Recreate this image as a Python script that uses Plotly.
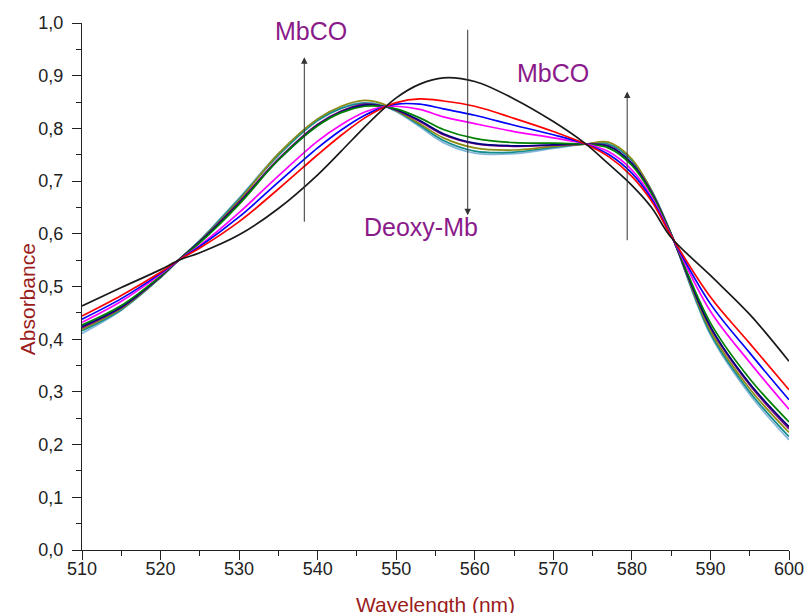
import plotly.graph_objects as go

# Wavelength grid (nm)
wavelength = [510, 515, 520, 522.5, 525, 530, 535, 540, 543, 546, 548, 550, 553,
              556, 560, 565, 570, 574, 577, 580, 582.5, 585, 590, 595, 600]

# Absorbance spectra recorded during the Deoxy-Mb -> MbCO conversion
deoxy_mb = [0.463, 0.498, 0.532, 0.551, 0.564, 0.598, 0.648, 0.712, 0.757, 0.803, 0.832, 0.858, 0.884,
            0.896, 0.889, 0.856, 0.813, 0.772, 0.733, 0.692, 0.650, 0.593, 0.521, 0.447, 0.358]
scan_red = [0.444, 0.483, 0.527, 0.552, 0.573, 0.623, 0.685, 0.750, 0.787, 0.820, 0.837, 0.849, 0.856,
            0.852, 0.842, 0.819, 0.794, 0.771, 0.747, 0.709, 0.662, 0.596, 0.480, 0.392, 0.304]
scan_blue = [0.438, 0.477, 0.525, 0.552, 0.576, 0.632, 0.698, 0.763, 0.797, 0.825, 0.838, 0.846, 0.846,
             0.837, 0.825, 0.806, 0.788, 0.771, 0.751, 0.715, 0.666, 0.596, 0.467, 0.374, 0.285]
scan_magenta = [0.432, 0.472, 0.523, 0.552, 0.578, 0.640, 0.710, 0.776, 0.807, 0.831, 0.840, 0.842, 0.836,
                0.822, 0.809, 0.794, 0.782, 0.771, 0.756, 0.721, 0.670, 0.597, 0.453, 0.356, 0.267]
scan_green = [0.427, 0.464, 0.520, 0.553, 0.583, 0.656, 0.740, 0.805, 0.830, 0.842, 0.842, 0.837, 0.820,
              0.798, 0.781, 0.773, 0.772, 0.770, 0.763, 0.730, 0.676, 0.599, 0.431, 0.325, 0.243]
scan_navy = [0.424, 0.461, 0.519, 0.553, 0.585, 0.658, 0.740, 0.806, 0.831, 0.844, 0.843, 0.836, 0.815,
             0.790, 0.772, 0.767, 0.769, 0.770, 0.766, 0.733, 0.678, 0.599, 0.424, 0.316, 0.234]
scan_purple = [0.422, 0.460, 0.519, 0.553, 0.585, 0.660, 0.742, 0.808, 0.833, 0.846, 0.843, 0.835, 0.813,
               0.788, 0.771, 0.766, 0.768, 0.770, 0.767, 0.734, 0.679, 0.599, 0.422, 0.313, 0.230]
scan_olive = [0.419, 0.458, 0.518, 0.553, 0.586, 0.663, 0.752, 0.818, 0.842, 0.853, 0.848, 0.834, 0.809,
              0.782, 0.763, 0.759, 0.766, 0.770, 0.774, 0.742, 0.681, 0.600, 0.416, 0.306, 0.223]
scan_teal = [0.416, 0.456, 0.517, 0.553, 0.587, 0.666, 0.749, 0.815, 0.838, 0.848, 0.844, 0.833, 0.806,
             0.777, 0.757, 0.755, 0.764, 0.770, 0.770, 0.739, 0.682, 0.600, 0.411, 0.300, 0.215]
mbco = [0.411, 0.455, 0.517, 0.553, 0.588, 0.668, 0.752, 0.818, 0.840, 0.849, 0.845, 0.832, 0.803,
        0.773, 0.753, 0.752, 0.762, 0.770, 0.771, 0.740, 0.683, 0.600, 0.408, 0.295, 0.209]

series = [
    (mbco, "#86b6dc"),
    (scan_teal, "#148c8c"),
    (scan_olive, "#8c8c14"),
    (scan_purple, "#800080"),
    (scan_navy, "#000080"),
    (scan_green, "#008000"),
    (scan_magenta, "#ff00ff"),
    (scan_blue, "#0000ff"),
    (scan_red, "#ff0000"),
    (deoxy_mb, "#1a1a1a"),
]

fig = go.Figure()
for values, color in series:
    fig.add_trace(go.Scatter(
        x=wavelength, y=values, mode="lines",
        line=dict(color=color, width=1.7, shape="spline", smoothing=1.0),
        showlegend=False, hoverinfo="skip",
    ))

axis_common = dict(
    showgrid=False, zeroline=False, showline=True, linecolor="#222222", linewidth=1.3,
    ticks="outside", ticklen=9, tickwidth=1.3, tickcolor="#222222",
    tickfont=dict(family="Arial, Liberation Sans, sans-serif", size=18, color="#222222"),
    mirror=False,
)

fig.update_layout(
    width=807, height=613,
    margin=dict(l=82, r=18, t=23, b=63, autoexpand=False),
    paper_bgcolor="white", plot_bgcolor="white",
    separators=",.",
    xaxis=dict(range=[510, 600], dtick=10, tick0=510, ticklabelstandoff=-7,
               minor=dict(dtick=5, ticklen=5, tickwidth=1.3, tickcolor="#222222", ticks="outside"),
               **axis_common),
    yaxis=dict(range=[0, 1.0], dtick=0.1, tickformat=".1f", ticklabelstandoff=5,
               minor=dict(dtick=0.05, ticklen=5, tickwidth=1.3, tickcolor="#222222", ticks="outside"),
               **axis_common),
)

title_font = dict(family="Arial, Liberation Sans, sans-serif", size=21, color="#9b1c1c")
fig.add_annotation(text="Wavelength (nm)", xref="paper", yref="paper", x=0.5, y=-0.103,
                   xanchor="center", yanchor="middle", showarrow=False, font=title_font)
fig.add_annotation(text="Absorbance", xref="paper", yref="paper", x=-0.077, y=0.475,
                   xanchor="center", yanchor="middle", textangle=-90, showarrow=False, font=title_font)

label_font = dict(family="Arial, Liberation Sans, sans-serif", size=25, color="#8a1a8a")
fig.add_annotation(text="MbCO", x=539.1, y=0.985, showarrow=False, font=label_font)
fig.add_annotation(text="MbCO", x=569.9, y=0.906, showarrow=False, font=label_font)
fig.add_annotation(text="Deoxy-Mb", x=553.1, y=0.612, showarrow=False, font=label_font)

# Direction-of-change arrows
arrow_style = dict(showarrow=True, arrowhead=2, arrowsize=1.3, arrowwidth=1,
                   arrowcolor="#333333", axref="x", ayref="y", text="")
fig.add_annotation(x=538.3, y=0.935, ax=538.3, ay=0.62, **arrow_style)
fig.add_annotation(x=559.1, y=0.635, ax=559.1, ay=0.99, **arrow_style)
fig.add_annotation(x=579.4, y=0.87, ax=579.4, ay=0.585, **arrow_style)

fig.write_html("out.html")
